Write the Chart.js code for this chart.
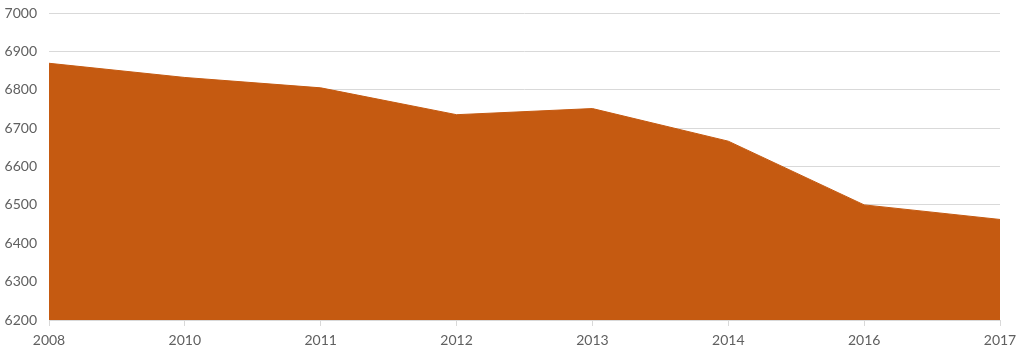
<!DOCTYPE html>
<html>
<head>
<meta charset="utf-8">
<script src="https://cdn.jsdelivr.net/npm/chart.js@4"></script>
<style>
  html, body { margin: 0; padding: 0; background: #fff; }
  #wrap { width: 1024px; height: 356px; position: relative; }
</style>
</head>
<body>
<div id="wrap"><canvas id="c" width="1024" height="356"></canvas></div>
<script>
const categories = ["2008", "2010", "2011", "2012", "2013", "2014", "2016", "2017"];
const values = [6869, 6832, 6805, 6735, 6751, 6666, 6500, 6462];
const yMin = 6200, yMax = 7000, yStep = 100;

const ctx = document.getElementById('c');
new Chart(ctx, {
  type: 'line',
  data: {
    labels: categories,
    datasets: [{
      data: values,
      fill: 'start',
      backgroundColor: '#C55A11',
      borderColor: '#C55A11',
      borderWidth: 1,
      pointRadius: 0,
      tension: 0
    }]
  },
  options: {
    responsive: false,
    animation: false,
    devicePixelRatio: 1,
    layout: { padding: { left: 0, right: 24, top: 13, bottom: 0 } },
    plugins: { legend: { display: false }, tooltip: { enabled: false } },
    scales: {
      x: {
        offset: false,
        grid: { drawOnChartArea: false, drawTicks: true, tickLength: 6, color: '#d9d9d9' },
        border: { display: true, color: '#d9d9d9' },
        ticks: { color: '#606060', font: { family: 'Lato', size: 14 }, padding: 6, maxRotation: 0 },
        afterFit: s => { s.height = 36; s.paddingLeft = 0; s.paddingRight = 0; }
      },
      y: {
        min: yMin, max: yMax,
        grid: { color: '#d9d9d9', drawTicks: false },
        border: { display: false },
        ticks: { stepSize: yStep, color: '#606060', font: { family: 'Lato', size: 14 }, padding: 12,
                 callback: v => String(v) },
        afterFit: s => { s.width = 49; s.paddingTop = 0; s.paddingBottom = 0; }
      }
    }
  }
});
</script>
</body>
</html>
